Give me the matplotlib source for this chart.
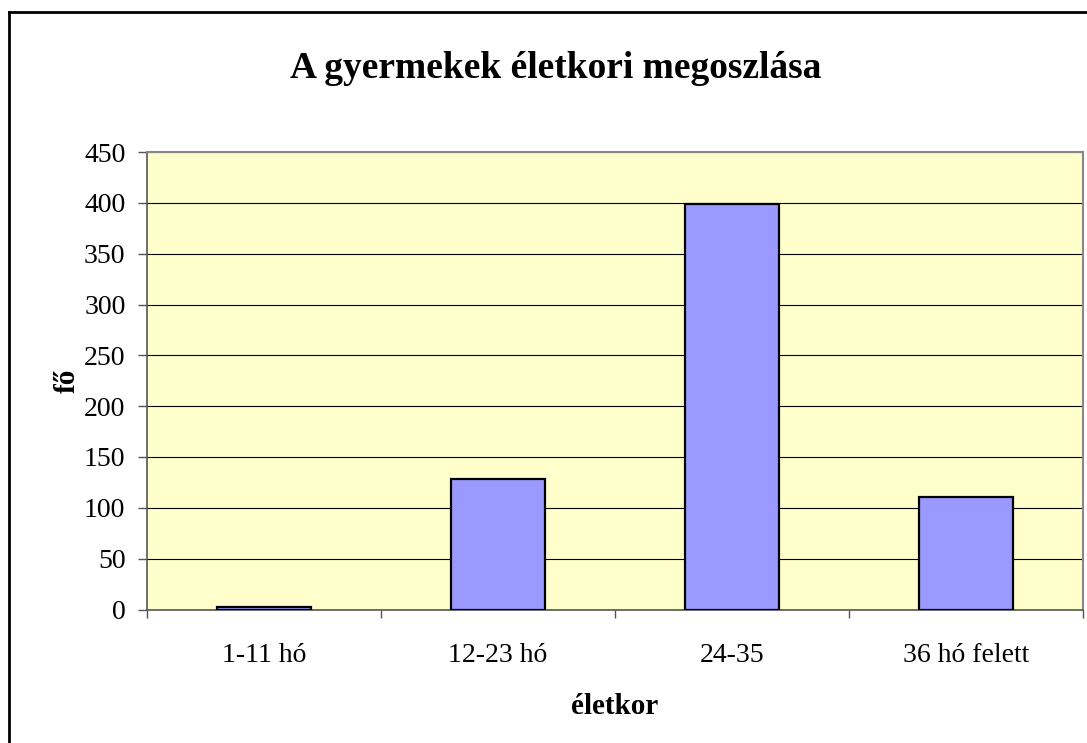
import matplotlib
matplotlib.use("Agg")
import matplotlib.pyplot as plt
from matplotlib.lines import Line2D

categories = ["1-11 hó", "12-23 hó", "24-35", "36 hó felett"]
values = [2, 128, 399, 111]
yticks = [0, 50, 100, 150, 200, 250, 300, 350, 400, 450]

plt.rcParams['font.family'] = ['Liberation Serif', 'DejaVu Serif']

W, H = 1087, 743
fig = plt.figure(figsize=(W / 100, H / 100), dpi=100)
ax = fig.add_axes([147 / W, 1 - 609.5 / H, (1083 - 147) / W, (609.5 - 152) / H])
ax.set_facecolor("#FFFFCC")

x = list(range(len(categories)))
ax.bar(x, values, width=0.4, color="#9999FF", edgecolor="black", linewidth=1.6, zorder=3)

ax.set_xlim(-0.5, len(categories) - 0.5)
ax.set_ylim(0, 450)
ax.set_yticks(yticks)
ax.set_yticklabels([str(v) for v in yticks], fontsize=20)
ax.yaxis.grid(True, color="black", linewidth=0.8, zorder=1)
ax.set_axisbelow(True)

ax.set_xticks([i + 0.5 for i in range(-1, len(categories))])
ax.set_xticklabels([""] * (len(categories) + 1))
ax.set_xticks(x, minor=True)
ax.set_xticklabels(categories, minor=True, fontsize=20)
ax.tick_params(axis='x', which='minor', length=0, pad=24)
ax.tick_params(axis='x', which='major', length=6, width=1, color="#555555", direction='out')
ax.tick_params(axis='y', length=6.5, width=1, color="#555555", direction='out', pad=9)

for s in ["left", "bottom"]:
    ax.spines[s].set_color("#555555")
    ax.spines[s].set_linewidth(1.2)
for s in ["top", "right"]:
    ax.spines[s].set_color("#888888")
    ax.spines[s].set_linewidth(1.5)

ax.set_xlabel("életkor", fontsize=21, fontweight="bold")
ax.xaxis.set_label_coords(0.5, (609.5 - 706) / (609.5 - 152))
ax.xaxis.label.set_va("center")
ax.set_ylabel("fő", fontsize=21, fontweight="bold")
ax.yaxis.set_label_coords((67 - 147) / (1083 - 147), 0.5)
ax.yaxis.label.set_va("center")

fig.text(556 / W, 1 - 68 / H, "A gyermekek életkori megoszlása", ha="center", va="center",
         fontsize=27, fontweight="bold")

# outer frame (left and top visible)
fig.add_artist(Line2D([8.5 / W, 8.5 / W], [0, 1 - 12 / H], transform=fig.transFigure, color="black", linewidth=2))
fig.add_artist(Line2D([8.5 / W, 1], [1 - 12 / H, 1 - 12 / H], transform=fig.transFigure, color="black", linewidth=2))

fig.savefig("out.png", dpi=100)
